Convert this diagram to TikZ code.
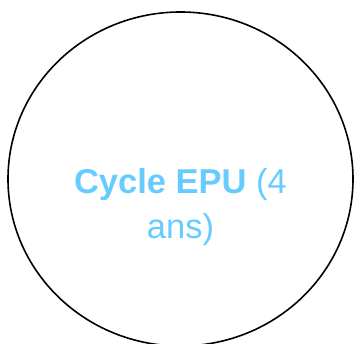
\documentclass[tikz,border=0pt]{standalone}
\usepackage{fontspec}
\setmainfont{Liberation Sans}
\usetikzlibrary{shapes.geometric}
\definecolor{epublue}{HTML}{66CCFF}
\tikzset{
  ring/.style={draw=black, line width=1.6pt, ellipse, minimum width=345pt, minimum height=334pt, inner sep=0pt},
  lbl/.style={text=epublue, font=\fontsize{34.5}{38}\selectfont, anchor=base, inner sep=0pt}
}
\begin{document}
\begin{tikzpicture}[x=1pt,y=-1pt]
\useasboundingbox (0,0) rectangle (354,344);
\node[ring] (c) at (180.5,179) {};
\node[lbl] (l1) at (180.5,194) {\textbf{Cycle EPU} (4};
\node[lbl] (l2) at (180.5,239) {ans)};
\end{tikzpicture}
\end{document}
